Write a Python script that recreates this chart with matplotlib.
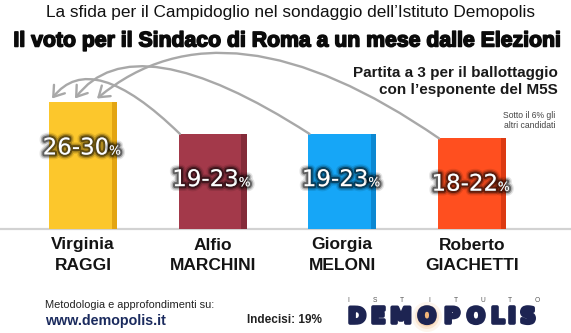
import matplotlib
matplotlib.use("Agg")
import matplotlib.pyplot as plt
import matplotlib.patheffects as pe
from matplotlib.patches import FancyArrowPatch, Ellipse, ArrowStyle
from matplotlib.path import Path
from matplotlib import font_manager as fm

# ---------------- data ----------------
first_names = ["Virginia", "Alfio", "Giorgia", "Roberto"]
last_names = ["RAGGI", "MARCHINI", "MELONI", "GIACHETTI"]
range_low = [26, 19, 19, 18]
range_high = [30, 23, 23, 22]
bar_colors = ["#FCC72C", "#A3394A", "#16A6F7", "#FF4F1F"]
edge_colors = ["#E3A512", "#842B39", "#0C88D2", "#DC3A12"]

title_top = "La sfida per il Campidoglio nel sondaggio dell\u2019Istituto Demopolis"
title_main = "Il voto per il Sindaco di Roma a un mese dalle Elezioni"
subtitle_1 = "Partita a 3 per il ballottaggio"
subtitle_2 = "con l\u2019esponente del M5S"
note_1 = "Sotto il 6% gli"
note_2 = "altri candidati"
footer_1 = "Metodologia e approfondimenti su:"
footer_2 = "www.demopolis.it"
undecided = "Indecisi: 19%"
logo_word = "DEMOPOLIS"
logo_top = "ISTITUTO"

W, H = 571, 333


def has_font(fam):
    try:
        fm.findfont(fm.FontProperties(family=fam), fallback_to_default=False)
        return True
    except Exception:
        return False


SANS = "Liberation Sans" if has_font("Liberation Sans") else "DejaVu Sans"
NARROW = "Liberation Sans Narrow" if has_font("Liberation Sans Narrow") else SANS

fig = plt.figure(figsize=(W / 100, H / 100), dpi=100)
fig.patch.set_facecolor("white")
ax = fig.add_axes([0, 0, 1, 1])
ax.set_axis_off()

# scales: bar centres at pixels 83 + 129.6*i ; baseline at y=229 px, 4.53 px per unit
ax.set_xlim((0 - 83) / 129.6, (W - 83) / 129.6)
ax.set_ylim(-(H - 229) / 4.53, 229 / 4.53)

xs = list(range(len(first_names)))
mids = [(lo + hi) / 2 for lo, hi in zip(range_low, range_high)]
bw = 0.525

ax.axhline(0, color="#d2d2d2", lw=1.6, zorder=1)
ax.bar(xs, mids, width=bw, color=bar_colors, zorder=2, linewidth=0)
# darker right edge for slight 3D look
ax.bar([x + bw / 2 - 0.02 for x in xs], mids, width=0.04, color=edge_colors,
       zorder=2.1, linewidth=0)

glow = [pe.Stroke(linewidth=7, foreground=(0, 0, 0, 0.10)),
        pe.Stroke(linewidth=5, foreground=(0, 0, 0, 0.22)),
        pe.Stroke(linewidth=3, foreground=(0, 0, 0, 0.45)),
        pe.Normal()]

for x, m, lo, hi in zip(xs, mids, range_low, range_high):
    t = ax.text(x - 0.055, m - 10.1, f"{lo}-{hi}", ha="center", va="center",
                color="white", fontsize=16.5, family="DejaVu Sans",
                path_effects=glow, zorder=5)
    ax.annotate("%", xy=(1.0, 0.08), xycoords=t, ha="left", va="bottom",
                color="white", fontsize=9, family="DejaVu Sans",
                path_effects=glow, zorder=5)

# names
for x, fn, ln in zip(xs, first_names, last_names):
    ax.text(x, (229 - 245) / 4.53, fn, ha="center", va="center",
            fontsize=12.5, fontweight="bold", family=SANS, color="#141414")
    ax.text(x, (229 - 265) / 4.53, ln, ha="center", va="center",
            fontsize=12.5, fontweight="bold", family=SANS, color="#141414")

# arrows (from top-left corner of each other bar to the top of the winner)
tips = [(-0.239, 28.8), (-0.062, 28.8), (0.108, 28.8)]
ctrls = [(0.066, 40.0), (0.39, 46.0), (1.10, 52.5)]
for k, i in enumerate([1, 2, 3]):
    start = (i - bw / 2 + 0.01, mids[i])
    path = Path([start, ctrls[k], tips[k]], [Path.MOVETO, Path.CURVE3, Path.CURVE3])
    arr = FancyArrowPatch(path=path,
                          arrowstyle=ArrowStyle("->", head_length=0.55, head_width=0.38),
                          mutation_scale=13, lw=1.7, color="#a8a8a8", zorder=3)
    ax.add_patch(arr)


def ftext(px, py, s, **kw):
    return fig.text(px / W, 1 - py / H, s, **kw)


def fit(t, width_px):
    r = fig.canvas.get_renderer()
    bb = t.get_window_extent(r)
    t.set_fontsize(t.get_fontsize() * width_px / bb.width)


t1 = ftext(290, 12, title_top, ha="center", va="center", fontsize=12,
           family=SANS, color="#111111")
fit(t1, 492)
t2 = ftext(288, 41, title_main, ha="center", va="center", fontsize=20,
           family=NARROW, fontweight="bold", color="#0b0b0b",
           path_effects=[pe.withStroke(linewidth=1.1, foreground="#0b0b0b")])
fit(t2, 547)

ftext(558, 73, subtitle_1, ha="right", va="center", fontsize=11,
      fontweight="bold", family=SANS, color="#1a1a1a")
ftext(558, 90, subtitle_2, ha="right", va="center", fontsize=11,
      fontweight="bold", family=SANS, color="#1a1a1a")
ftext(555, 116, note_1, ha="right", va="center", fontsize=6.2,
      family=SANS, color="#444444")
ftext(555, 125, note_2, ha="right", va="center", fontsize=6.2,
      family=SANS, color="#444444")

f1 = ftext(45, 305, footer_1, ha="left", va="center", fontsize=8.5,
           family=SANS, color="#222222")
fit(f1, 168)
f2 = ftext(45, 321, footer_2, ha="left", va="center", fontsize=11,
           fontweight="bold", family=SANS, color="#1B2B5E")
fit(f2, 121)
f3 = ftext(247, 320, undecided, ha="left", va="center", fontsize=8.5,
           fontweight="bold", family=SANS, color="#222222")
fit(f3, 75)

# logo
for r, a in [(15, 0.10), (12, 0.18), (9.5, 0.30), (7, 0.55)]:
    fig.patches.append(Ellipse((427 / W, 1 - 317 / H), 2 * r / W, 2 * r / H,
                               transform=fig.transFigure, facecolor="#F0A050",
                               edgecolor="none", alpha=a, zorder=0))
logo_centres = [357, 378, 401, 427, 452, 476, 498, 512, 528]
for ch, cx in zip(logo_word, logo_centres):
    ftext(cx, 317, ch, ha="center", va="center", fontsize=15.5,
          fontweight="bold", family="DejaVu Sans", color="#1D2452", zorder=2,
          path_effects=[pe.withStroke(linewidth=2.6, foreground="#1D2452")])
for j, ch in enumerate(logo_top):
    ftext(348 + j * (537 - 348) / (len(logo_top) - 1), 301, ch, ha="center",
          va="center", fontsize=4.8, family=SANS, color="#555555")

fig.savefig("out.png", dpi=100, facecolor="white")
